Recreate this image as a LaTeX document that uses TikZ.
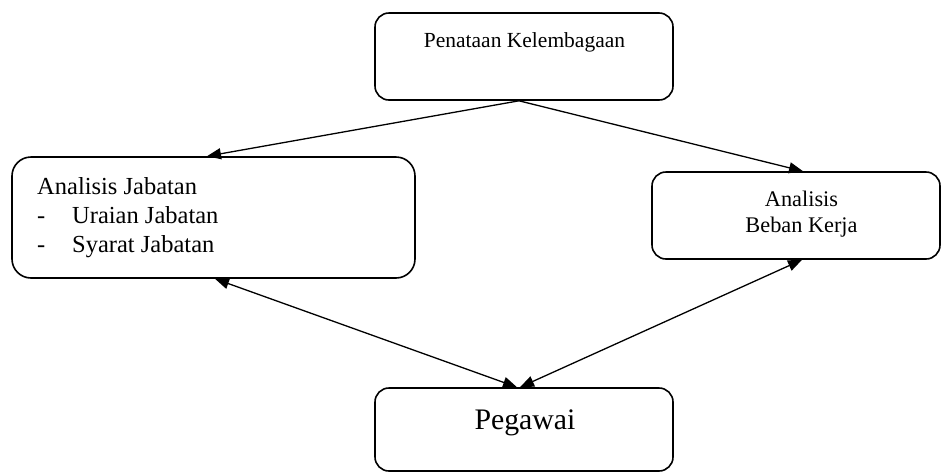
\documentclass[tikz,border=0pt]{standalone}
\usepackage{fontspec}
\setmainfont{Liberation Serif}
\usetikzlibrary{arrows.meta,positioning}
\tikzset{
  alur box/.style={draw=black, line width=1.6pt, rounded corners=14pt, inner sep=0pt},
  alur text/.style={inner sep=0pt, font=\fontsize{21.5}{26}\selectfont, text=black},
  alur link/.style={draw=black, line width=1.3pt, -{Triangle[length=14pt,width=11pt]}},
  alur both/.style={draw=black, line width=1.3pt, {Triangle[length=14pt,width=11pt]}-{Triangle[length=14pt,width=11pt]}},
}
\begin{document}
\begin{tikzpicture}[x=1pt,y=-1pt]
  \useasboundingbox (0,0) rectangle (941,472);

  % Top: the starting point.
  \node[alur box, minimum width=298pt, minimum height=87pt] (lembaga) at (524,56.5) {};
  \node[alur text] (lembagaTxt) at (524.5,42) {Penataan Kelembagaan};

  % Left: job analysis with its two parts.
  \node[alur box, rounded corners=19pt, minimum width=403pt, minimum height=121pt] (jabatan) at (213.5,217.5) {};
  \node[alur text, anchor=west, align=left, font=\fontsize{24.5}{29}\selectfont] (jabatanTxt) at (37,218)
    {Analisis Jabatan\\\makebox[35pt][l]{-}Uraian Jabatan\\\makebox[35pt][l]{-}Syarat Jabatan};

  % Right: workload analysis, runs off the page edge.
  \node[alur box, minimum width=288pt, minimum height=87pt] (beban) at (796,215.5) {};
  \node[alur text, align=center, font=\fontsize{22.3}{26}\selectfont] (bebanTxt) at (801.5,214.5)
    {Analisis\\Beban Kerja};

  % Bottom: the staff.
  \node[alur box, minimum width=298pt, minimum height=83pt] (pegawai) at (524,429.5) {};
  \node[alur text, font=\fontsize{29.8}{34}\selectfont] (pegawaiTxt) at (525,423) {Pegawai};

  \draw[alur link] ([xshift=-5pt]lembaga.south) -- ([xshift=-6.5pt]jabatan.north);
  \draw[alur link] ([xshift=-5pt]lembaga.south) -- ([xshift=7pt]beban.north);
  \draw[alur both] ([xshift=1.5pt]jabatan.south) -- ([xshift=-7pt]pegawai.north);
  \draw[alur both] ([xshift=6pt]beban.south) -- ([xshift=-4pt]pegawai.north);
\end{tikzpicture}
\end{document}
